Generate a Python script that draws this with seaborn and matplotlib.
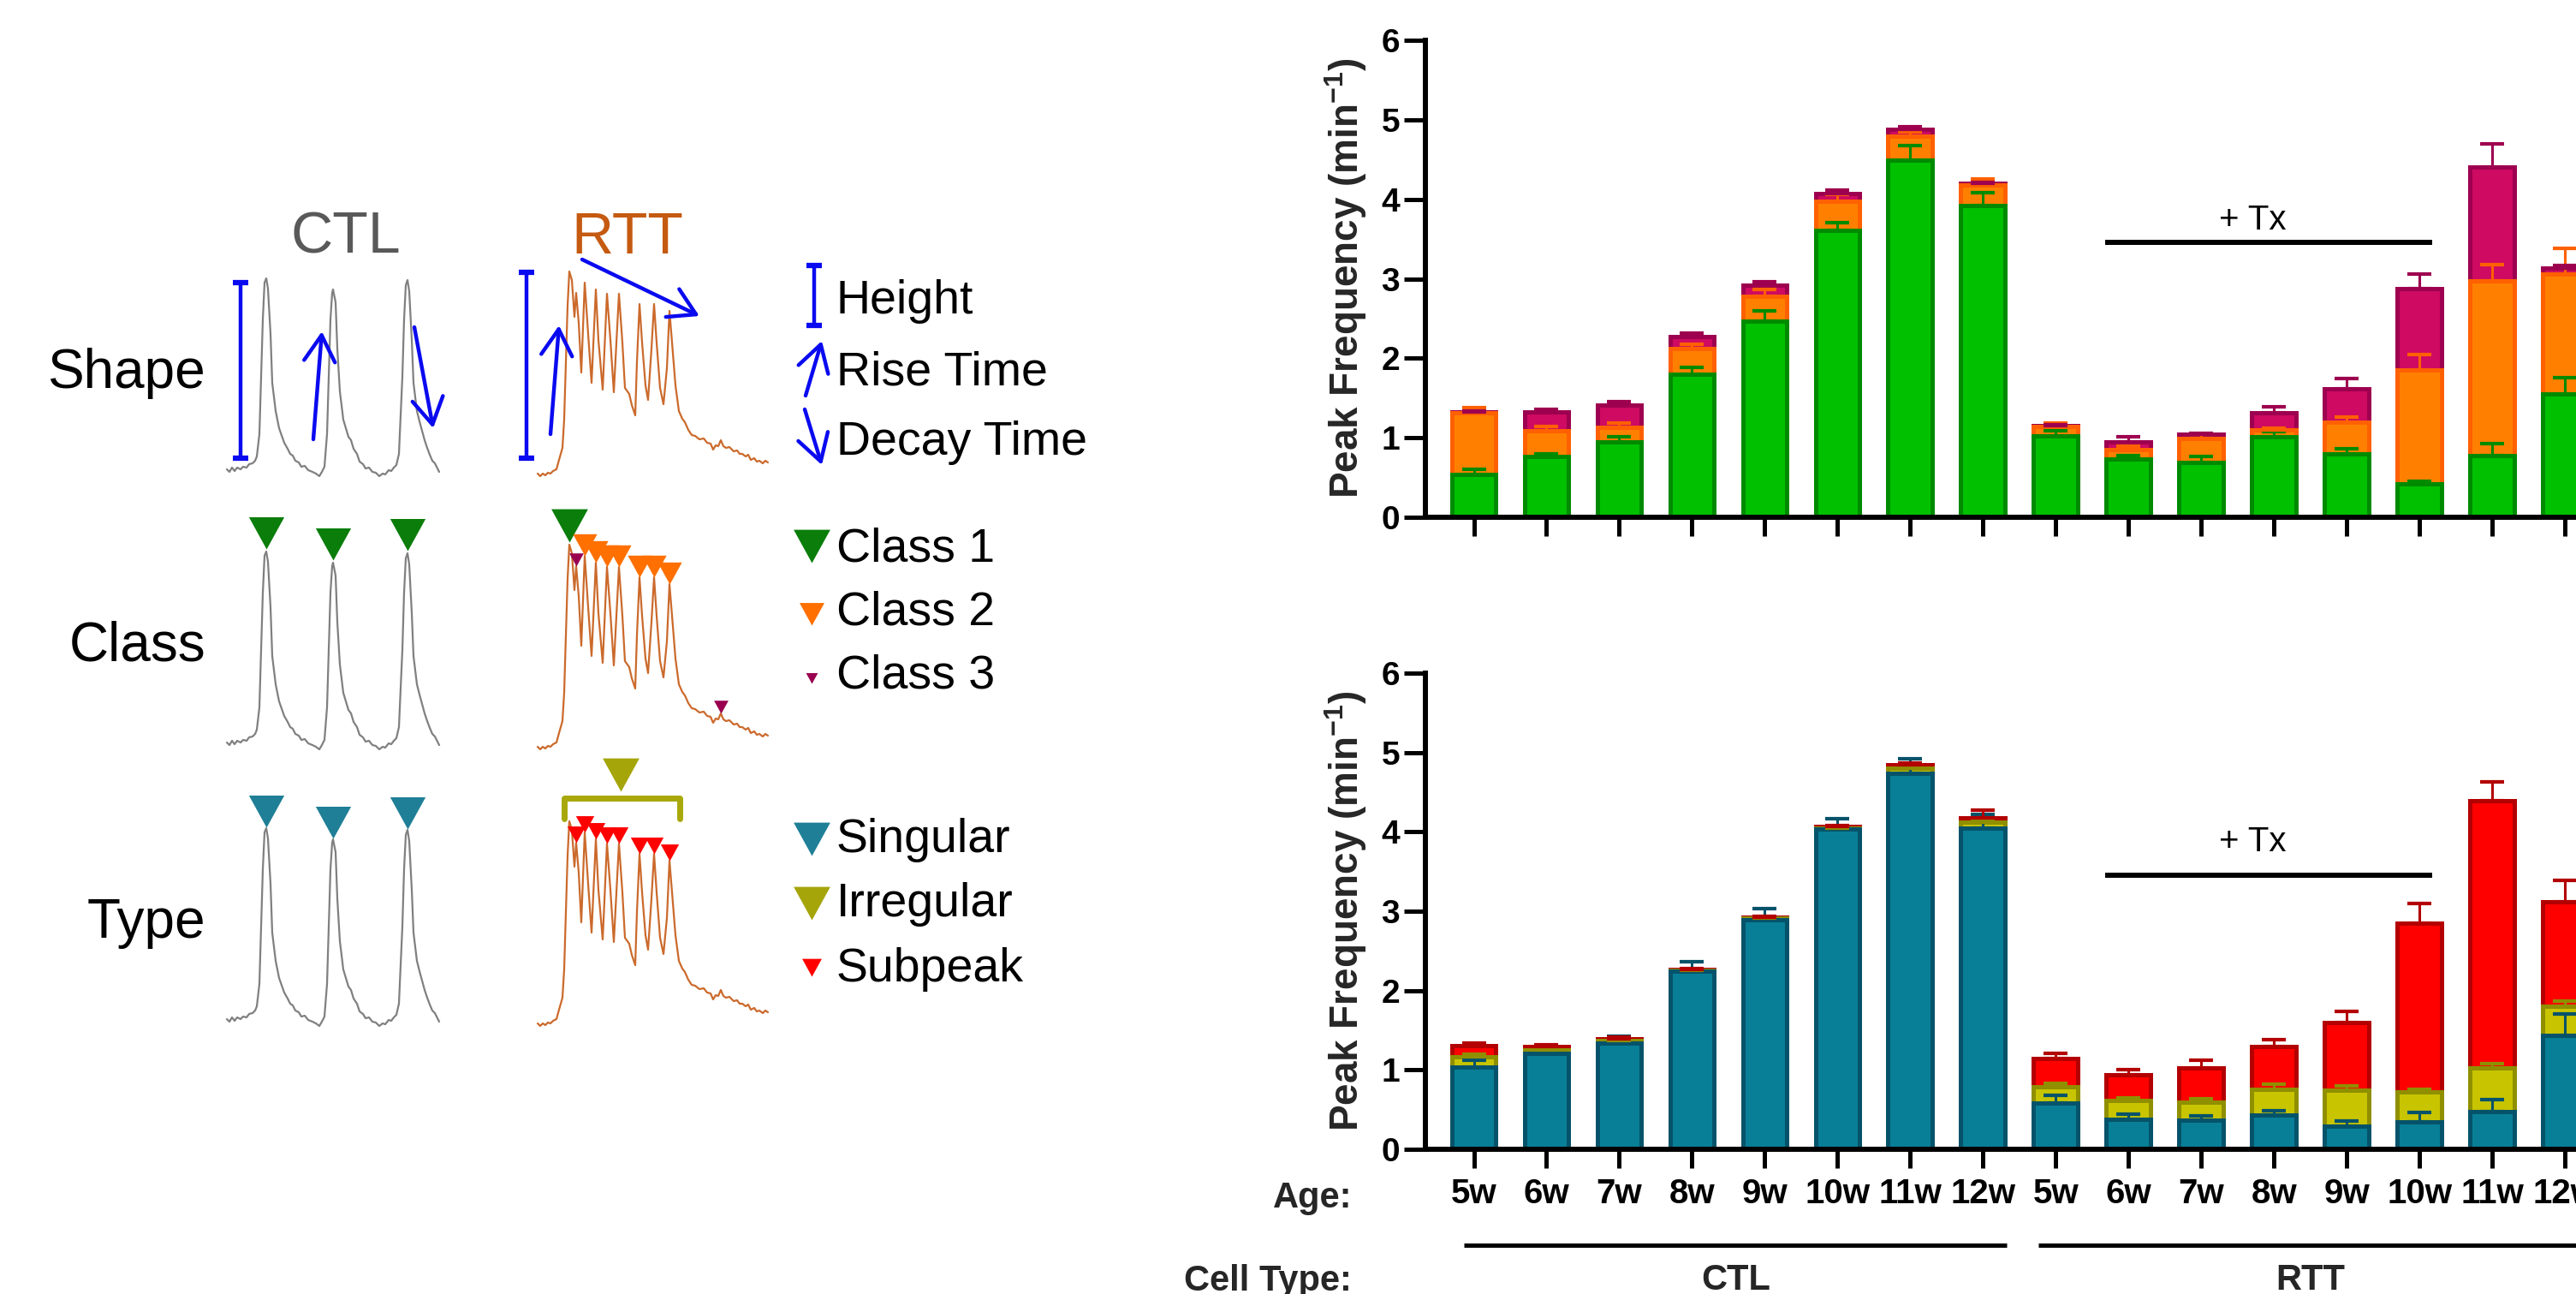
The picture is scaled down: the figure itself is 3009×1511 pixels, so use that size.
import numpy as np
import matplotlib
matplotlib.use('Agg')
import matplotlib.pyplot as plt
import seaborn as sns

sns.set_theme(style='white')
plt.rcParams['font.family'] = ['Liberation Sans', 'DejaVu Sans']
plt.rcParams['mathtext.fontset'] = 'custom'
plt.rcParams['mathtext.rm'] = 'Liberation Sans'
plt.rcParams['mathtext.bf'] = 'Liberation Sans:bold'

# ---- bar chart data (peaks per minute, stacked) ----
ages = ['5w', '6w', '7w', '8w', '9w', '10w', '11w', '12w'] * 2
cell_types = ['CTL', 'RTT']
yticks = [0, 1, 2, 3, 4, 5, 6]

class1 = [0.54, 0.76, 0.95, 1.80, 2.47, 3.61, 4.49, 3.92, 1.02, 0.73, 0.69, 1.01, 0.80, 0.42, 0.78, 1.55]
class2 = [0.77, 0.33, 0.18, 0.32, 0.31, 0.36, 0.30, 0.26, 0.12, 0.12, 0.30, 0.09, 0.40, 1.43, 2.19, 1.51]
class3 = [0.01, 0.23, 0.28, 0.15, 0.14, 0.10, 0.09, 0.02, 0.01, 0.10, 0.05, 0.21, 0.42, 1.03, 1.44, 0.07]
class1_sem = [0.06, 0.04, 0.06, 0.08, 0.13, 0.10, 0.19, 0.16, 0.07, 0.05, 0.08, 0.07, 0.06, 0.03, 0.15, 0.21]
class2_sem = [0.07, 0.05, 0.05, 0.06, 0.09, 0.09, 0.06, 0.08, 0.05, 0.04, 0.06, 0.02, 0.06, 0.20, 0.21, 0.32]
class3_sem = [0.02, 0.04, 0.04, 0.05, 0.04, 0.05, 0.03, 0.01, 0.01, 0.06, 0.02, 0.08, 0.12, 0.18, 0.29, 0.04]

singular = [1.04, 1.21, 1.34, 2.25, 2.89, 4.04, 4.74, 4.05, 0.58, 0.38, 0.37, 0.43, 0.29, 0.34, 0.48, 1.43]
irregular = [0.13, 0.04, 0.03, 0.01, 0.02, 0.01, 0.06, 0.07, 0.21, 0.23, 0.22, 0.33, 0.46, 0.38, 0.55, 0.37]
subpeak = [0.14, 0.04, 0.02, 0.01, 0.01, 0.02, 0.05, 0.06, 0.35, 0.33, 0.43, 0.54, 0.85, 2.13, 3.36, 1.32]
singular_sem = [0.08, 0.06, 0.08, 0.11, 0.14, 0.13, 0.18, 0.17, 0.10, 0.06, 0.05, 0.06, 0.07, 0.12, 0.15, 0.28]
irregular_sem = [0.03, 0.01, 0.01, 0.01, 0.01, 0.01, 0.02, 0.02, 0.04, 0.04, 0.05, 0.06, 0.05, 0.04, 0.05, 0.07]
subpeak_sem = [0.03, 0.03, 0.02, 0.01, 0.01, 0.01, 0.02, 0.09, 0.07, 0.06, 0.10, 0.08, 0.14, 0.25, 0.24, 0.27]

class_fill = ['#00C000', '#FF8000', '#CE0A62']
class_edge = ['#008A00', '#FF6000', '#9E0050']
type_fill = ['#087F97', '#C8C400', '#FF0000']
type_edge = ['#05536A', '#8F8F00', '#B30000']

# ---- schematic traces (pixel coords of the "Shape" row) ----
ctl_trace = [(265, 548), (268, 551), (271, 546), (274, 550), (277, 546), (281, 548), (284, 545), (288, 546),
             (291, 542), (295, 541), (298, 538), (300, 533), (303, 507), (305, 440), (307, 373), (309, 330),
             (311, 325), (313, 337), (316, 390), (318, 447), (322, 480), (326, 500), (332, 517), (336, 524),
             (339, 530), (342, 532), (345, 538), (349, 540), (352, 545), (356, 544), (360, 549), (365, 551),
             (369, 553), (373, 556), (376, 551), (379, 545), (382, 507), (384, 440), (386, 373), (388, 342),
             (389, 338), (392, 353), (394, 407), (397, 457), (401, 490), (404, 500), (407, 510), (410, 514),
             (413, 524), (417, 530), (420, 539), (424, 542), (427, 547), (431, 546), (435, 551), (439, 552),
             (443, 556), (447, 553), (450, 554), (454, 549), (457, 550), (460, 546), (463, 543), (466, 530),
             (467, 507), (470, 440), (472, 373), (474, 333), (476, 327), (478, 340), (481, 397), (483, 447),
             (487, 480), (490, 492), (493, 503), (496, 514), (499, 523), (502, 531), (505, 538), (508, 541),
             (510, 545), (513, 551)]
rtt_trace = [(628, 553), (631, 556), (634, 553), (637, 555), (640, 552), (643, 553), (646, 550), (650, 548),
             (653, 537), (657, 523), (659, 490), (661, 423), (663, 357), (665, 317), (668, 327), (671, 370),
             (673, 342), (676, 377), (679, 435), (683, 330), (687, 390), (691, 447), (696, 338), (699, 397),
             (704, 455), (709, 343), (713, 397), (717, 458), (723, 343), (727, 400), (730, 453), (735, 460),
             (738, 473), (742, 485), (744, 423), (747, 355), (750, 400), (754, 450), (757, 467), (761, 407),
             (764, 355), (767, 400), (771, 453), (775, 472), (779, 430), (782, 363), (785, 400), (789, 450),
             (793, 480), (797, 489), (800, 493), (804, 502), (808, 508), (812, 509), (817, 513), (822, 512),
             (826, 517), (830, 518), (833, 525), (836, 520), (839, 521), (842, 514), (845, 521), (848, 523),
             (852, 522), (857, 527), (861, 526), (864, 530), (867, 530), (871, 533), (874, 531), (877, 537),
             (881, 535), (884, 539), (887, 538), (891, 541), (894, 538), (897, 540)]
ctl_peaks = [(311, 325), (389, 338), (476, 327)]
rtt_peaks = [(665, 317), (673, 342), (683, 330), (696, 338), (709, 343), (723, 343), (747, 355),
             (764, 355), (782, 363)]
late_peak = (842, 514)
row_names = ['Shape', 'Class', 'Type']
row_shift = [0, 319, 642]

W, H = 3009, 1511
fig = plt.figure(figsize=(W / 100, H / 100), dpi=100)

# full-figure pixel canvas for the schematic and loose labels
ax0 = fig.add_axes([0, 0, 1, 1])
ax0.set_xlim(0, W)
ax0.set_ylim(H, 0)
ax0.axis('off')

BLUE = '#0A0AF0'
TRI = [(0, 0), (-0.55, 1), (0.55, 1)]


def tri(x, y, ms, color):
    ax0.plot(x, y, ls='none', marker=TRI, ms=ms, color=color, mec='none', zorder=5)


def arrow(tail, tip):
    ax0.annotate('', xy=tip, xytext=tail,
                 arrowprops=dict(arrowstyle='->,head_length=2.2,head_width=1.3', color=BLUE, lw=3.2,
                                 shrinkA=0, shrinkB=0, mutation_scale=10))


def hbar(x, y0, y1):
    ax0.plot([x, x], [y0, y1], color=BLUE, lw=3.2)
    for yy in (y0, y1):
        ax0.plot([x - 9, x + 9], [yy, yy], color=BLUE, lw=4.5, solid_capstyle='butt')


cx, cy = np.array(ctl_trace).T
rx, ry = np.array(rtt_trace).T
for name, dy in zip(row_names, row_shift):
    sns.lineplot(x=cx, y=cy + dy, sort=False, estimator=None, color='#808080', lw=1.6, ax=ax0)
    sns.lineplot(x=rx, y=ry + dy, sort=False, estimator=None, color='#CB6A2C', lw=1.6, ax=ax0)
    ax0.text(240, 436 + dy, name, ha='right', va='center', fontsize=46, color='black')

ax0.text(404, 278, 'CTL', ha='center', va='center', fontsize=49, color='#595959')
ax0.text(733, 278, 'RTT', ha='center', va='center', fontsize=49, color='#C55A11')

# shape row annotations
hbar(281, 330, 535)
hbar(615, 318, 535)
arrow((366, 513), (376, 387))
arrow((484, 382), (506, 500))
arrow((643, 507), (653, 380))
arrow((680, 303), (817, 369))

# class row markers
pk = np.array(ctl_peaks)
rp = np.array(rtt_peaks)
tri(pk[:, 0], pk[:, 1] + 319 - 3, 54, '#0A7D0A')
tri(rp[:1, 0], rp[:1, 1] + 319 - 3, 56, '#0A7D0A')
tri(rp[2:, 0], rp[2:, 1] + 319, 37, '#FF7000')
tri(rp[1:2, 0], rp[1:2, 1] + 319, 22, '#990050')
tri([late_peak[0]], [late_peak[1] + 319], 22, '#990050')

# type row markers
tri(pk[:, 0], pk[:, 1] + 642 - 1, 54, '#1F7F96')
tri(rp[1:, 0], rp[1:, 1] + 642, 28, '#FF0000')
tri([725], [924], 56, '#A5A50A')
ax0.plot([659, 659, 794, 794], [956, 932, 932, 956], color='#A8A80A', lw=5, solid_joinstyle='round')

# legend column
hbar(951, 310, 380)
arrow((941, 462), (960, 398))
arrow((940, 478), (960, 543))
tri([948], [657], 56, '#0A7D0A')
tri([948], [730], 38, '#FF7000')
tri([948], [798], 18, '#990050')
tri([948], [999], 56, '#1F7F96')
tri([948], [1074], 56, '#A5A50A')
tri([948], [1140], 30, '#FF0000')
legend_text = ['Height', 'Rise Time', 'Decay Time', 'Class 1', 'Class 2', 'Class 3',
               'Singular', 'Irregular', 'Subpeak']
legend_y = [352, 435, 517, 641, 715, 790, 981, 1056, 1132]
for t, yy in zip(legend_text, legend_y):
    ax0.text(977, yy, t, ha='left', va='center', fontsize=40, color='black')

# ---- stacked bar panels ----
pos = np.arange(len(ages))
left, right = 1665 / W, 1.0
ax1 = fig.add_axes([left, 1 - 604 / H, right - left, (604 - 47) / H])
ax2 = fig.add_axes([left, 1 - 1342 / H, right - left, (1342 - 786) / H])


def stacked(ax, parts, sems, fills, edges):
    tops = np.cumsum(np.array(parts), axis=0)
    for k in range(len(parts) - 1, -1, -1):
        sns.barplot(x=pos, y=tops[k], native_scale=True, width=0.61, color=fills[k],
                    edgecolor=edges[k], linewidth=3.6, saturation=1, errorbar=None, ax=ax)
    for k in range(len(parts)):
        ax.errorbar(pos, tops[k], yerr=[np.zeros(len(pos)), sems[k]], fmt='none',
                    ecolor=edges[k], elinewidth=2.2, capsize=10, capthick=3, zorder=4)


stacked(ax1, [class1, class2, class3], [class1_sem, class2_sem, class3_sem], class_fill, class_edge)
stacked(ax2, [singular, irregular, subpeak], [singular_sem, irregular_sem, subpeak_sem], type_fill, type_edge)

for ax, ty in [(ax1, 3.62), (ax2, 3.76)]:
    ax.set_xlim(-0.665, 15.15)
    ax.set_ylim(0, 6)
    ax.set_yticks(yticks)
    ax.set_yticklabels([str(v) for v in yticks], fontsize=28, fontweight='bold')
    ax.set_xticks(pos)
    ax.set_xlabel('')
    ax.set_ylabel('')
    for s in ['top', 'right']:
        ax.spines[s].set_visible(False)
    for s in ['left', 'bottom']:
        ax.spines[s].set_linewidth(4.3)
        ax.spines[s].set_color('black')
    ax.tick_params(axis='y', direction='out', length=18, width=3.6, pad=3.5, colors='black', left=True)
    ax.tick_params(axis='x', direction='out', length=16, width=3.6, colors='black', bottom=True)
    ax.patch.set_alpha(0)
    # treatment bar over RTT 6w-10w
    ax.plot([8.68, 13.17], [3.455, 3.455], color='black', lw=4.3, solid_capstyle='butt')
    ax.text(10.7, ty, '+ Tx', ha='center', va='baseline', fontsize=29, color='black')

ax1.set_xticklabels([])
ax2.set_xticklabels(ages, fontsize=29, fontweight='bold')
ax2.tick_params(axis='x', pad=8)

# cell-type group lines and labels
for (x0, x1), name in zip([(-0.135, 7.33), (7.76, 15.5)], cell_types):
    ax2.plot([x0, x1], [-1.208, -1.208], color='black', lw=3.6, clip_on=False, solid_capstyle='butt')
    ax2.text((x0 + min(x1, 15.27)) / 2 if name == 'CTL' else 11.5, -1.77, name, ha='center',
             va='baseline', fontsize=30, fontweight='bold', clip_on=False)

ax0.text(1579, 1410, 'Age:', ha='right', va='baseline', fontsize=30, fontweight='bold')
ax0.text(1579, 1507, 'Cell Type:', ha='right', va='baseline', fontsize=30, fontweight='bold')
ylab = 'Peak Frequency (min$^{\\mathbf{-1}}$)'
ax0.text(1572, 325, ylab, rotation=90, ha='center', va='center', fontsize=33, fontweight='bold')
ax0.text(1572, 1064, ylab, rotation=90, ha='center', va='center', fontsize=33, fontweight='bold')

fig.savefig('out.png', dpi=100)
